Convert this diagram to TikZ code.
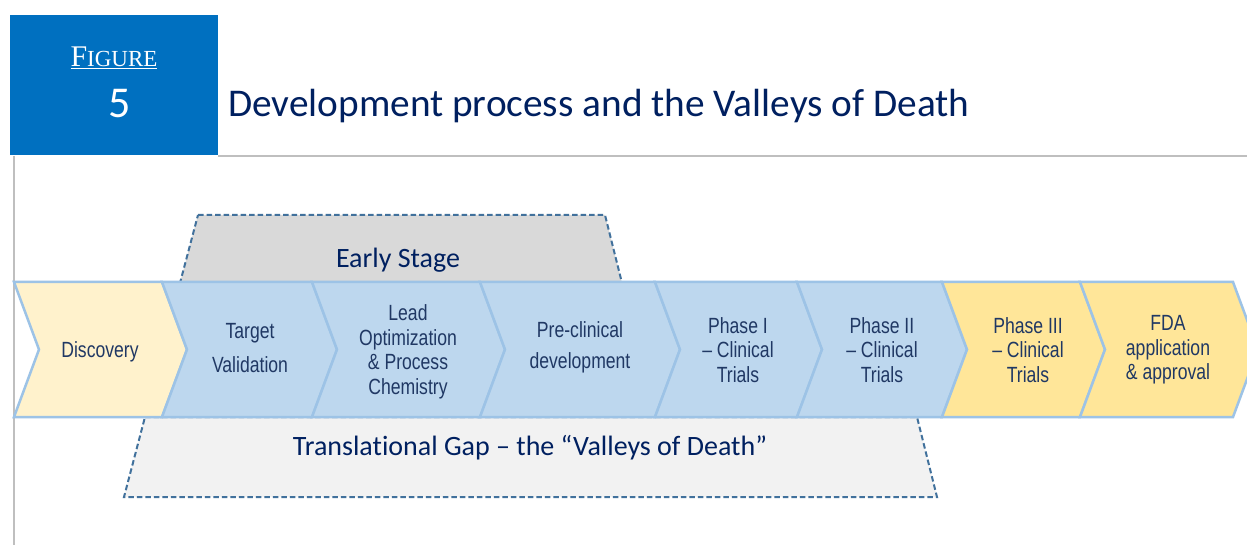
\documentclass[tikz,border=0pt]{standalone}
\usepackage{fontspec}
\setmainfont{Carlito}[Ligatures=NoCommon]
\newfontfamily\chevfont[FakeStretch=0.8]{Liberation Sans}
\newfontfamily\figserif{Liberation Serif}
\definecolor{hdrblue}{RGB}{0,112,192}
\definecolor{navy}{RGB}{0,32,96}
\definecolor{chevtext}{RGB}{32,56,100}
\definecolor{chevblue}{RGB}{189,215,238}
\definecolor{chevedge}{RGB}{157,195,230}
\definecolor{chevcream}{RGB}{255,242,204}
\definecolor{chevyellow}{RGB}{255,230,153}
\definecolor{rulegray}{RGB}{191,191,191}
\definecolor{dashblue}{RGB}{65,113,156}
\definecolor{earlygray}{RGB}{217,217,217}
\definecolor{gapgray}{RGB}{242,242,242}
\newcommand\mkchev[3]{%
  \filldraw[chevshape, fill=#3] (#1,282) -- (#2,282) -- (#2+25,349.5) -- (#2,417) -- (#1,417) -- (#1+25,349.5) -- cycle;}
\begin{document}
\begin{tikzpicture}[x=1pt,y=-1pt,
  chevshape/.style={draw=chevedge, line width=2.5pt, line join=miter},
  chevtxt/.style={font=\chevfont\fontsize{22}{24.5}\selectfont, text=chevtext, align=center, inner sep=0pt},
  bandtxt/.style={font=\fontsize{28}{30}\selectfont, text=navy, inner sep=0pt, anchor=base},
  dashbox/.style={draw=dashblue, line width=2pt, dash pattern=on 5.5pt off 3pt},
  grayrule/.style={draw=rulegray, line width=1.5pt}]
\useasboundingbox (0,0) rectangle (1247,545);
\fill[white] (0,0) rectangle (1247,545);
% header
\fill[hdrblue] (10,15) rectangle (218,155);
\draw[grayrule] (218,156) -- (1247,156);
\draw[grayrule] (14,156) -- (14,545);
\node[inner sep=0pt, anchor=base, text=white] (figlabel) at (114,67)
  {\underline{\figserif\fontsize{30}{30}\selectfont F\fontsize{23}{23}\selectfont IGURE}};
\node[inner sep=0pt, anchor=base, text=white, font=\fontsize{44}{44}\selectfont] (fignum) at (120,118) {5};
\node[inner sep=0pt, anchor=base west, text=navy, font=\fontsize{39.3}{42}\selectfont] (title) at (228,117)
  {Development process and the Valleys of Death};
% background bands
\filldraw[dashbox, fill=earlygray] (198,215) -- (605,215) -- (622,283) -- (180,283) -- cycle;
\filldraw[dashbox, fill=gapgray] (145,417) -- (917,417) -- (937,497) -- (124,497) -- cycle;
\node[bandtxt] (early) at (398,268) {Early Stage};
\node[bandtxt] (gap) at (530,455) {Translational Gap – the “Valleys of Death”};
% chevrons
\mkchev{14}{162}{chevcream}
\mkchev{162}{312}{chevblue}
\mkchev{312}{480}{chevblue}
\mkchev{480}{655}{chevblue}
\mkchev{655}{797}{chevblue}
\mkchev{797}{942}{chevblue}
\mkchev{942}{1080}{chevyellow}
\mkchev{1080}{1233}{chevyellow}
\node[chevtxt] (disc) at (100,352) {Discovery};
\node[chevtxt, font=\chevfont\fontsize{22}{34}\selectfont] (target) at (250,348) {Target\\Validation};
\node[chevtxt] (lead) at (408,352) {Lead\\Optimization\\\& Process\\Chemistry};
\node[chevtxt, font=\chevfont\fontsize{22}{31}\selectfont] (precl) at (580,347) {Pre-clinical\\development};
\node[chevtxt] (ph1) at (738,350) {Phase I\\– Clinical\\Trials};
\node[chevtxt] (ph2) at (882,350) {Phase II\\– Clinical\\Trials};
\node[chevtxt] (ph3) at (1028,350) {Phase III\\– Clinical\\Trials};
\node[chevtxt] (fda) at (1168,350) {FDA\\application\\\& approval};
\end{tikzpicture}
\end{document}
